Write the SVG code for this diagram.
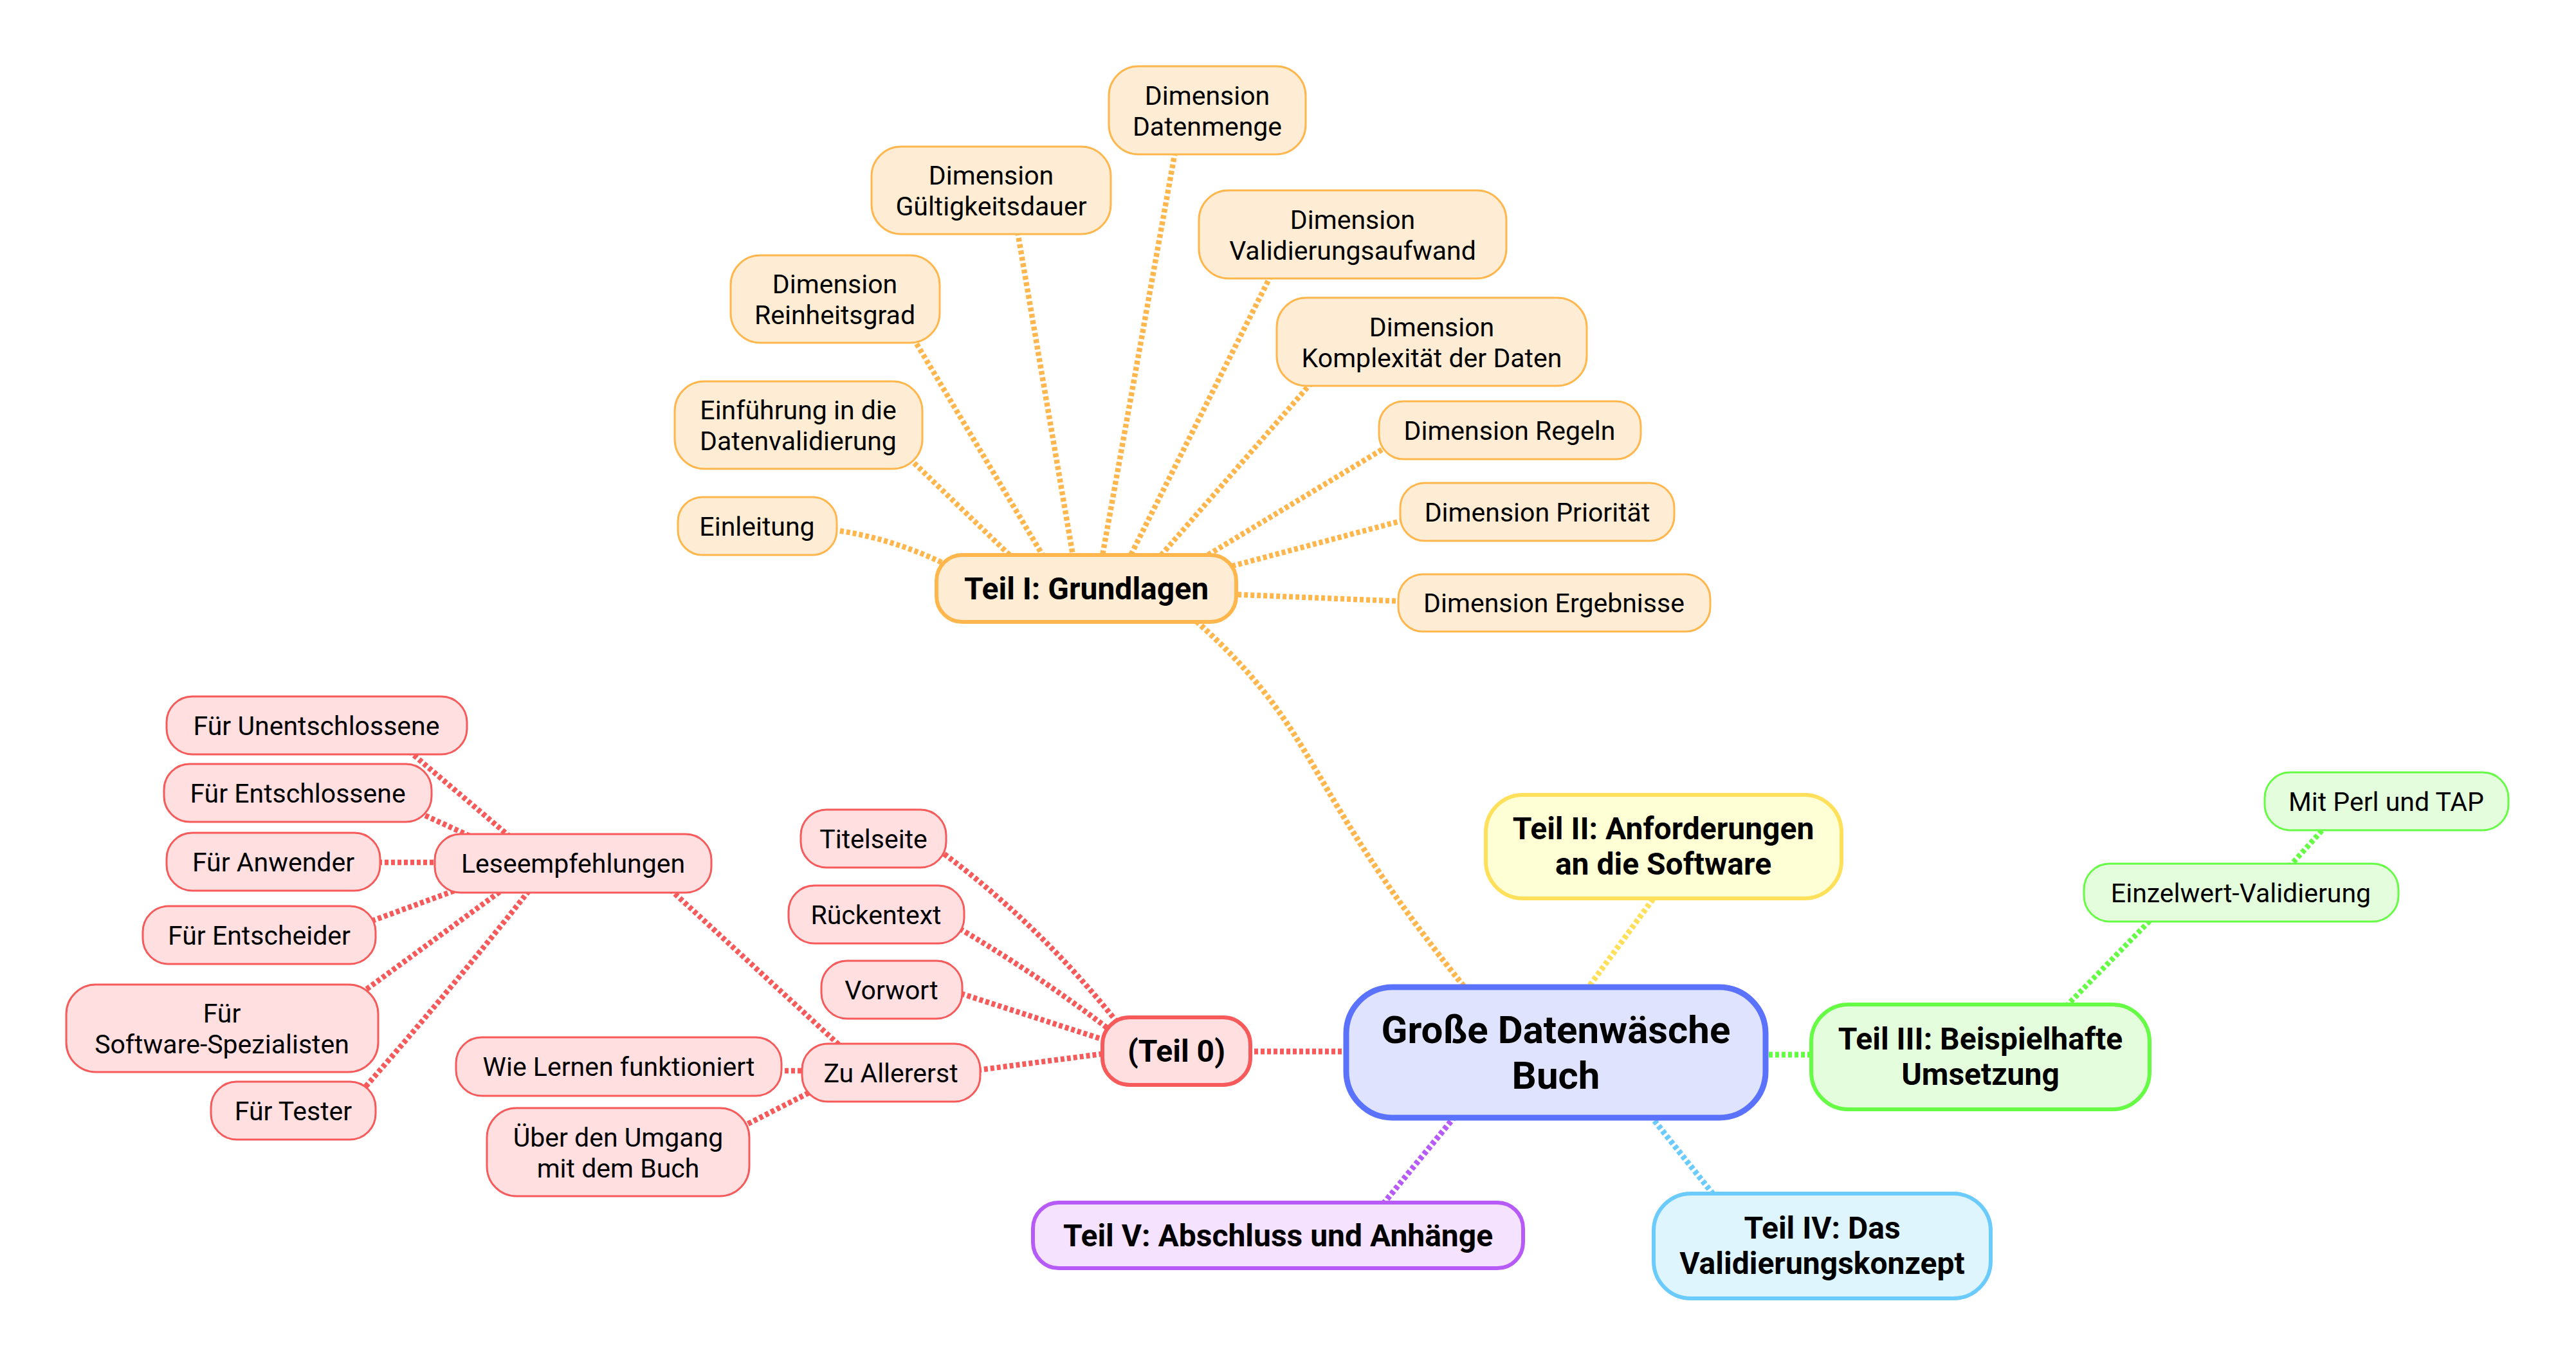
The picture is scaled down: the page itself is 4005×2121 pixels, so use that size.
<svg xmlns="http://www.w3.org/2000/svg" width="4005" height="2121" viewBox="0 0 4005 2121">
<style>
text{font-family:Roboto,"Liberation Sans",sans-serif;fill:#000;text-anchor:middle}
.leaf{font-size:41px}
.l1{font-size:48px;font-weight:bold}
.root{font-size:60px;font-weight:bold}
.e{fill:none;stroke-dasharray:6 4}
.e1{stroke-width:9}
.e2{stroke-width:8.5}
.or{stroke:#FFB74D}.rd{stroke:#F65A5A}.ye{stroke:#FFE05A}.gr{stroke:#66FC46}.bl{stroke:#6BCBFC}.pu{stroke:#B65AF8}
.n-or{fill:#FFECD4;stroke:#FFB74D}
.n-rd{fill:#FFDFE0;stroke:#F65A5A}
.n-ye{fill:#FFFFD6;stroke:#FFE05A}
.n-gr{fill:#E4FEDD;stroke:#66FC46}
.n-bl{fill:#DEF5FD;stroke:#6BCBFC}
.n-pu{fill:#F4E2FE;stroke:#B65AF8}
.n-root{fill:#DFE3FE;stroke:#5A72FC;stroke-width:9}
.lf{stroke-width:3}
.lv1{stroke-width:6}
</style>
<g id="connectors">
<path class="e e1 or" d="M1860,966 C2060,1146 2015,1212 2285,1545"/>
<path class="e e1 ye" d="M2570,1398 L2466,1540"/>
<path class="e e1 gr" d="M2740,1640 L2820,1640"/>
<path class="e e1 bl" d="M2566,1735 L2666,1860"/>
<path class="e e1 pu" d="M2262,1736 L2148,1875"/>
<path class="e e1 rd" d="M1940,1635 L2100,1635"/>
<path class="e e2 or" d="M1296,824 Q1395,838 1485,885"/>
<path class="e e2 or" d="M1414,713 L1582,875"/>
<path class="e e2 or" d="M1420,526 L1628,875"/>
<path class="e e2 or" d="M1582,360 L1670,875"/>
<path class="e e2 or" d="M1827,236 L1712,875"/>
<path class="e e2 or" d="M1976,428 L1752,875"/>
<path class="e e2 or" d="M2039,595 L1795,875"/>
<path class="e e2 or" d="M2157,694 L1858,875"/>
<path class="e e2 or" d="M2182,809 L1905,883"/>
<path class="e e2 or" d="M2180,935 L1910,924"/>
<path class="e e2 rd" d="M1460,1322 Q1620,1440 1745,1600"/>
<path class="e e2 rd" d="M1492,1444 Q1620,1520 1730,1605"/>
<path class="e e2 rd" d="M1494,1545 L1720,1618"/>
<path class="e e2 rd" d="M1520,1664 L1720,1638"/>
<path class="e e2 rd" d="M1042,1383 L1308,1628"/>
<path class="e e2 rd" d="M1210,1665 L1252,1665"/>
<path class="e e2 rd" d="M1154,1752 L1262,1697"/>
<path class="e e2 rd" d="M636,1168 L795,1303"/>
<path class="e e2 rd" d="M652,1264 L737,1303"/>
<path class="e e2 rd" d="M588,1341 L680,1341"/>
<path class="e e2 rd" d="M578,1432 L712,1383"/>
<path class="e e2 rd" d="M562,1544 L782,1383"/>
<path class="e e2 rd" d="M562,1697 Q700,1540 824,1383"/>
<path class="e e2 gr" d="M3212,1565 L3346,1428"/>
<path class="e e2 gr" d="M3559,1348 L3614,1287"/>
</g>
<g id="root"><rect class="n-root" x="2093" y="1535" width="652" height="203" rx="72"/><text class="root" x="2419" y="1622">Große Datenwäsche</text><text class="root" x="2419" y="1693">Buch</text></g>
<g id="teil1"><rect class="n-or lv1" x="1456" y="863" width="466" height="104" rx="40"/><text class="l1" x="1689" y="932">Teil I: Grundlagen</text></g>
<g id="teil2"><rect class="n-ye lv1" x="2310" y="1236" width="553" height="161" rx="58"/><text class="l1" x="2586" y="1305">Teil II: Anforderungen</text><text class="l1" x="2586" y="1360">an die Software</text></g>
<g id="teil3"><rect class="n-gr lv1" x="2816" y="1562" width="526" height="163" rx="58"/><text class="l1" x="3079" y="1632">Teil III: Beispielhafte</text><text class="l1" x="3079" y="1687">Umsetzung</text></g>
<g id="teil4"><rect class="n-bl lv1" x="2571" y="1856" width="524" height="163" rx="58"/><text class="l1" x="2833" y="1926">Teil IV: Das</text><text class="l1" x="2833" y="1981">Validierungskonzept</text></g>
<g id="teil5"><rect class="n-pu lv1" x="1606" y="1870" width="762" height="102" rx="40"/><text class="l1" x="1987" y="1938">Teil V: Abschluss und Anhänge</text></g>
<g id="teil0"><rect class="n-rd lv1" x="1714" y="1582" width="230" height="105" rx="42"/><text class="l1" x="1829" y="1651">(Teil 0)</text></g>
<g id="einleitung"><rect class="n-or lf" x="1054" y="773" width="247" height="90" rx="38"/><text class="leaf" x="1177" y="833">Einleitung</text></g>
<g id="einfuehrung"><rect class="n-or lf" x="1049" y="593" width="385" height="136" rx="46"/><text class="leaf" x="1241" y="652">Einführung in die</text><text class="leaf" x="1241" y="700">Datenvalidierung</text></g>
<g id="reinheitsgrad"><rect class="n-or lf" x="1136" y="397" width="325" height="136" rx="46"/><text class="leaf" x="1298" y="456">Dimension</text><text class="leaf" x="1298" y="504">Reinheitsgrad</text></g>
<g id="gueltigkeit"><rect class="n-or lf" x="1355" y="228" width="372" height="136" rx="46"/><text class="leaf" x="1541" y="287">Dimension</text><text class="leaf" x="1541" y="335">Gültigkeitsdauer</text></g>
<g id="datenmenge"><rect class="n-or lf" x="1724" y="103" width="306" height="137" rx="46"/><text class="leaf" x="1877" y="163">Dimension</text><text class="leaf" x="1877" y="211">Datenmenge</text></g>
<g id="validierungsaufwand"><rect class="n-or lf" x="1864" y="296" width="478" height="137" rx="46"/><text class="leaf" x="2103" y="356">Dimension</text><text class="leaf" x="2103" y="404">Validierungsaufwand</text></g>
<g id="komplexitaet"><rect class="n-or lf" x="1985" y="463" width="482" height="137" rx="46"/><text class="leaf" x="2226" y="523">Dimension</text><text class="leaf" x="2226" y="571">Komplexität der Daten</text></g>
<g id="regeln"><rect class="n-or lf" x="2144" y="624" width="407" height="90" rx="38"/><text class="leaf" x="2347" y="684">Dimension Regeln</text></g>
<g id="prioritaet"><rect class="n-or lf" x="2177" y="751" width="426" height="90" rx="38"/><text class="leaf" x="2390" y="811">Dimension Priorität</text></g>
<g id="ergebnisse"><rect class="n-or lf" x="2174" y="893" width="485" height="89" rx="38"/><text class="leaf" x="2416" y="952">Dimension Ergebnisse</text></g>
<g id="titelseite"><rect class="n-rd lf" x="1245" y="1259" width="226" height="90" rx="40"/><text class="leaf" x="1358" y="1319">Titelseite</text></g>
<g id="rueckentext"><rect class="n-rd lf" x="1226" y="1377" width="273" height="90" rx="40"/><text class="leaf" x="1362" y="1437">Rückentext</text></g>
<g id="vorwort"><rect class="n-rd lf" x="1277" y="1494" width="219" height="90" rx="40"/><text class="leaf" x="1386" y="1554">Vorwort</text></g>
<g id="zuallererst"><rect class="n-rd lf" x="1247" y="1623" width="277" height="90" rx="40"/><text class="leaf" x="1385" y="1683">Zu Allererst</text></g>
<g id="leseempfehlungen"><rect class="n-rd lf" x="676" y="1297" width="430" height="91" rx="40"/><text class="leaf" x="891" y="1357">Leseempfehlungen</text></g>
<g id="unentschlossene"><rect class="n-rd lf" x="259" y="1083" width="467" height="90" rx="40"/><text class="leaf" x="492" y="1143">Für Unentschlossene</text></g>
<g id="entschlossene"><rect class="n-rd lf" x="255" y="1188" width="416" height="90" rx="40"/><text class="leaf" x="463" y="1248">Für Entschlossene</text></g>
<g id="anwender"><rect class="n-rd lf" x="259" y="1295" width="332" height="90" rx="40"/><text class="leaf" x="425" y="1355">Für Anwender</text></g>
<g id="entscheider"><rect class="n-rd lf" x="222" y="1409" width="362" height="90" rx="40"/><text class="leaf" x="403" y="1469">Für Entscheider</text></g>
<g id="softwarespezialisten"><rect class="n-rd lf" x="103" y="1531" width="485" height="136" rx="46"/><text class="leaf" x="345" y="1590">Für</text><text class="leaf" x="345" y="1638">Software-Spezialisten</text></g>
<g id="tester"><rect class="n-rd lf" x="328" y="1682" width="256" height="90" rx="40"/><text class="leaf" x="456" y="1742">Für Tester</text></g>
<g id="wielernen"><rect class="n-rd lf" x="709" y="1613" width="506" height="91" rx="40"/><text class="leaf" x="962" y="1673">Wie Lernen funktioniert</text></g>
<g id="umgang"><rect class="n-rd lf" x="757" y="1723" width="408" height="137" rx="46"/><text class="leaf" x="961" y="1783">Über den Umgang</text><text class="leaf" x="961" y="1831">mit dem Buch</text></g>
<g id="einzelwert"><rect class="n-gr lf" x="3240" y="1343" width="489" height="90" rx="40"/><text class="leaf" x="3484" y="1403">Einzelwert-Validierung</text></g>
<g id="perltap"><rect class="n-gr lf" x="3521" y="1201" width="379" height="90" rx="40"/><text class="leaf" x="3710" y="1261">Mit Perl und TAP</text></g>
</svg>
